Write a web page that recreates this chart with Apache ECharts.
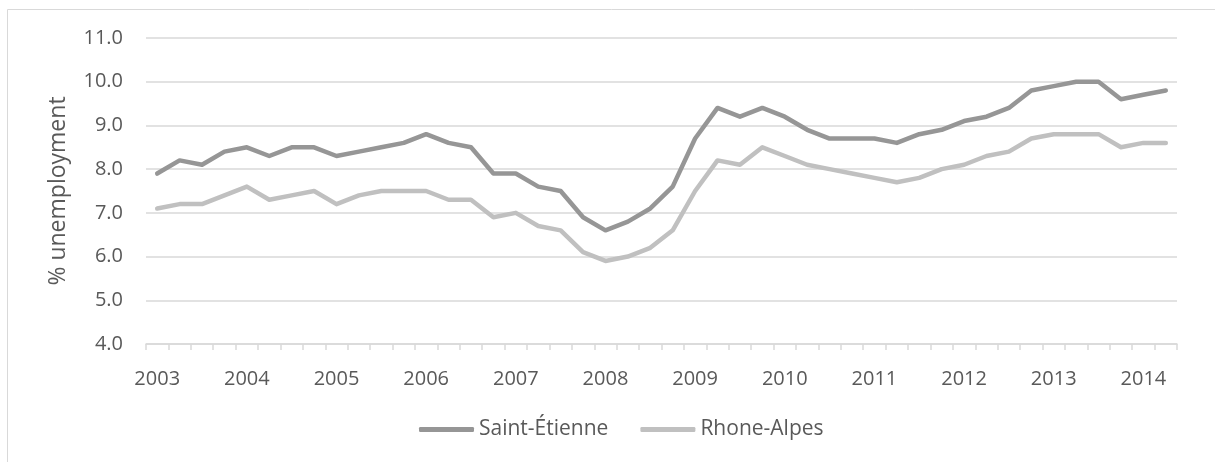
<!DOCTYPE html>
<html>
<head>
<meta charset="utf-8">
<script src="https://cdn.jsdelivr.net/npm/echarts@6/dist/echarts.min.js"></script>
<style>
  html, body { margin: 0; padding: 0; background: #fff; }
  #chart { width: 1215px; height: 462px; }
</style>
</head>
<body>
<div id="chart"></div>
<script>
// quarterly, 2003 Q1 .. 2014 Q2
const years = ['2003', '2004', '2005', '2006', '2007', '2008', '2009', '2010', '2011', '2012', '2013', '2014'];
const quarters = ['Q1', 'Q2', 'Q3', 'Q4'];

const saintEtienne = [
  7.9, 8.2, 8.1, 8.4,
  8.5, 8.3, 8.5, 8.5,
  8.3, 8.4, 8.5, 8.6,
  8.8, 8.6, 8.5, 7.9,
  7.9, 7.6, 7.5, 6.9,
  6.6, 6.8, 7.1, 7.6,
  8.7, 9.4, 9.2, 9.4,
  9.2, 8.9, 8.7, 8.7,
  8.7, 8.6, 8.8, 8.9,
  9.1, 9.2, 9.4, 9.8,
  9.9, 10.0, 10.0, 9.6,
  9.7, 9.8
];
const rhoneAlpes = [
  7.1, 7.2, 7.2, 7.4,
  7.6, 7.3, 7.4, 7.5,
  7.2, 7.4, 7.5, 7.5,
  7.5, 7.3, 7.3, 6.9,
  7.0, 6.7, 6.6, 6.1,
  5.9, 6.0, 6.2, 6.6,
  7.5, 8.2, 8.1, 8.5,
  8.3, 8.1, 8.0, 7.9,
  7.8, 7.7, 7.8, 8.0,
  8.1, 8.3, 8.4, 8.7,
  8.8, 8.8, 8.8, 8.5,
  8.6, 8.6
];

const categories = [];
years.forEach(y => quarters.forEach(q => categories.push(y + ' ' + q)));
categories.length = saintEtienne.length;

const font = 'Open Sans';
const chart = echarts.init(document.getElementById('chart'));

chart.setOption({
  animation: false,
  textStyle: { fontFamily: font },
  graphic: [{
    type: 'rect',
    silent: true,
    shape: { x: 7.5, y: 9.5, width: 1220, height: 480 },
    style: { fill: 'none', stroke: '#d9d9d9', lineWidth: 1 }
  }],
  grid: {
    left: 146,
    right: 38,
    top: 38,
    bottom: 118
  },
  legend: {
    bottom: 17,
    left: 414,
    itemWidth: 55,
    itemHeight: 5,
    itemGap: 32,
    icon: 'roundRect',
    textStyle: { fontFamily: font, fontSize: 21, color: '#595959' },
    data: ['Saint-Étienne', 'Rhone-Alpes']
  },
  xAxis: {
    type: 'category',
    data: categories,
    boundaryGap: true,
    axisLine: { lineStyle: { color: '#d9d9d9', width: 1.5 } },
    axisTick: { show: true, interval: 0, length: 6, lineStyle: { color: '#d9d9d9', width: 1.5 } },
    axisLabel: {
      interval: 3,
      margin: 25,
      color: '#595959',
      fontSize: 20,
      fontFamily: font,
      formatter: v => v.split(' ')[0]
    }
  },
  yAxis: {
    type: 'value',
    min: 4,
    max: 11,
    interval: 1,
    name: '% unemployment',
    nameLocation: 'middle',
    nameGap: 76,
    nameTextStyle: { fontFamily: font, fontSize: 23, color: '#595959' },
    axisLine: { show: false },
    axisTick: { show: false },
    splitLine: { lineStyle: { color: '#d9d9d9', width: 1.5 } },
    axisLabel: {
      margin: 23,
      color: '#595959',
      fontSize: 20,
      fontFamily: font,
      formatter: v => v.toFixed(1)
    }
  },
  series: [
    {
      name: 'Saint-Étienne',
      type: 'line',
      data: saintEtienne,
      showSymbol: false,
      color: '#969696',
      lineStyle: { width: 4.5, cap: 'round', join: 'round' }
    },
    {
      name: 'Rhone-Alpes',
      type: 'line',
      data: rhoneAlpes,
      showSymbol: false,
      color: '#c0c0c0',
      lineStyle: { width: 4.5, cap: 'round', join: 'round' }
    }
  ]
});
</script>
</body>
</html>
